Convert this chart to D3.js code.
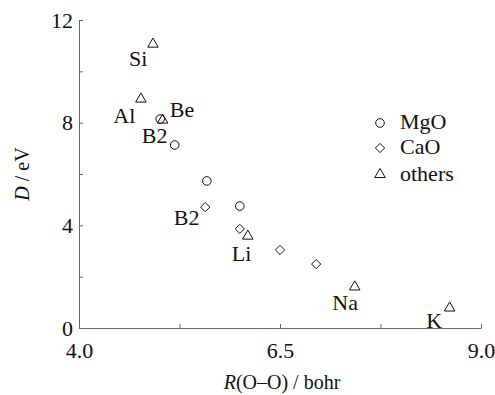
<!DOCTYPE html>
<html>
<head>
<meta charset="utf-8">
<script src="https://cdn.jsdelivr.net/npm/d3@7"></script>
<style>
  html, body { margin: 0; padding: 0; background: #fff; }
  svg { display: block; }
  svg text { font-family: 'Liberation Serif', 'Times New Roman', serif; }
</style>
</head>
<body>
<svg id="chart" width="495" height="395"></svg>
<script>
// R(O-O) in bohr, D in eV
const mgoR = [5.01, 5.19, 5.59, 6.00];
const mgoD = [8.14, 7.13, 5.73, 4.75];

const caoR = [5.57, 6.00, 6.50, 6.95];
const caoD = [4.71, 3.86, 3.04, 2.49];

const othersName = ['Si', 'Al', 'Be', 'Li', 'Na', 'K'];
const othersR = [4.92, 4.77, 5.04, 6.10, 7.43, 8.61];
const othersD = [11.06, 8.92, 8.10, 3.58, 1.60, 0.78];

// point labels, placed in data coordinates (R, D of text baseline)
const labelText = ['Si', 'Al', 'Be', 'B2', 'B2', 'Li', 'Na', 'K'];
const labelR = [4.85, 4.70, 5.13, 4.78, 5.18, 5.90, 7.15, 8.32];
const labelD = [10.2, 7.99, 8.22, 7.21, 4.01, 2.61, 0.70, 0.0];
const labelAnchor = ['end', 'end', 'start', 'start', 'start', 'start', 'start', 'start'];

const xMajor = [4.0, 6.5, 9.0];
const xMinor = [5.25, 7.75];
const yMajor = [0, 4, 8, 12];
const yMinor = [2, 6, 10];

const legendNames = ['MgO', 'CaO', 'others'];
const legendShapes = ['circle', 'diamond', 'triangle'];

const margin = { left: 79, right: 14, top: 20, bottom: 67 };
const width = 495, height = 395;
const svg = d3.select('#chart');

const x = d3.scaleLinear().domain([4, 9]).range([margin.left, width - margin.right]);
const y = d3.scaleLinear().domain([0, 12]).range([height - margin.bottom, margin.top]);

const axisColor = '#666';

// axes, ticks pointing inward
const xAxis = svg.append('g')
  .attr('transform', `translate(0,${y(0)})`)
  .call(d3.axisBottom(x).tickValues(xMajor.concat(xMinor)).tickSize(-4).tickSizeOuter(0)
    .tickFormat(d => xMajor.includes(d) ? d3.format('.1f')(d) : ''))
  .attr('font-family', null)
  .attr('font-size', 22);
xAxis.selectAll('text')
  .attr('y', 14)
  .attr('fill', '#111');

const yAxis = svg.append('g')
  .attr('transform', `translate(${x(4)},0)`)
  .call(d3.axisLeft(y).tickValues(yMajor.concat(yMinor)).tickSize(-4).tickSizeOuter(0)
    .tickFormat(d => yMajor.includes(d) ? d : ''))
  .attr('font-family', null)
  .attr('font-size', 22);
yAxis.selectAll('text')
  .attr('x', -6)
  .attr('fill', '#111');

svg.selectAll('.domain, .tick line').attr('stroke', axisColor);

// axis titles
const xTitle = svg.append('text')
  .attr('x', 282).attr('y', 389)
  .attr('text-anchor', 'middle')
  .attr('font-size', 20)
  .attr('fill', '#111');
xTitle.append('tspan').attr('font-style', 'italic').text('R');
xTitle.append('tspan').text('(O\u2013O) / bohr');

const yTitle = svg.append('text')
  .attr('transform', 'translate(29,174) rotate(-90)')
  .attr('text-anchor', 'middle')
  .attr('font-size', 20)
  .attr('fill', '#111');
yTitle.append('tspan').attr('font-style', 'italic').text('D');
yTitle.append('tspan').text(' / eV');

// symbols
const triPath = d3.symbol().type(d3.symbolTriangle).size(48)();
const diaPath = 'M0,-4.6L4.6,0L0,4.6L-4.6,0Z';

function drawShape(g, shape) {
  if (shape === 'circle') {
    g.append('circle').attr('r', 4.3);
  } else if (shape === 'diamond') {
    g.append('path').attr('d', diaPath);
  } else {
    g.append('path').attr('d', triPath).attr('transform', 'translate(0,-0.5)');
  }
}

const marks = svg.append('g').attr('fill', 'none').attr('stroke', '#111').attr('stroke-width', 1);

marks.selectAll('.mgo')
  .data(d3.range(mgoR.length))
  .join('circle')
  .attr('class', 'mgo')
  .attr('cx', i => x(mgoR[i]))
  .attr('cy', i => y(mgoD[i]))
  .attr('r', 4.3);

marks.selectAll('.cao')
  .data(d3.range(caoR.length))
  .join('path')
  .attr('class', 'cao')
  .attr('d', diaPath)
  .attr('transform', i => `translate(${x(caoR[i])},${y(caoD[i])})`);

marks.selectAll('.oth')
  .data(d3.range(othersR.length))
  .join('path')
  .attr('class', 'oth')
  .attr('d', triPath)
  .attr('transform', i => `translate(${x(othersR[i])},${y(othersD[i])})`);

// point labels
svg.append('g')
  .attr('font-size', 22)
  .selectAll('text')
  .data(d3.range(labelText.length))
  .join('text')
  .attr('x', i => x(labelR[i]))
  .attr('y', i => y(labelD[i]))
  .attr('text-anchor', i => labelAnchor[i])
  .attr('fill', '#111')
  .text(i => labelText[i]);

// legend
const legend = svg.append('g').attr('transform', 'translate(380,123)');
legendNames.forEach((name, i) => {
  const row = legend.append('g').attr('transform', `translate(0,${[0, 25, 52][i]})`);
  const sym = row.append('g').attr('fill', 'none').attr('stroke', '#111');
  drawShape(sym, legendShapes[i]);
  row.append('text')
    .attr('x', 20).attr('y', 6)
    .attr('font-size', 22)
    .attr('fill', '#111')
    .text(name);
});
</script>
</body>
</html>
